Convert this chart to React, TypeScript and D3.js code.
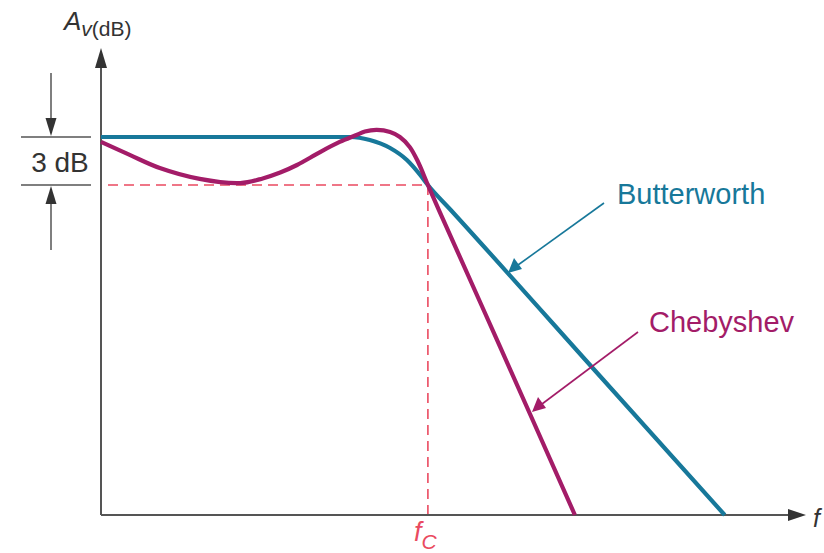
import React from "react";
import * as d3 from "d3";

// Frequency (arbitrary units) and gain (dB relative to passband)
const butterFreq = [0, 20, 35.6, 38.4, 41.3, 43.7, 45.6, 46.7, 49.9, 71.4, 89.1];
const butterGain = [0, 0, 0, -0.19, -0.69, -1.44, -2.375, -3, -4.53, -15, -23.625];

const chebyFreq = [0, 4.1, 8.4, 14.1, 19.9, 23.1, 25.6, 28, 31.3, 34.1, 36.3, 37.7, 39.4, 41.3, 42.7, 44.1, 45.3, 46.7, 48.4, 57, 67.7];
const chebyGain = [-0.31, -1.12, -1.94, -2.62, -2.88, -2.59, -2.22, -1.75, -0.94, -0.31, 0.09, 0.34, 0.44, 0.31, 0, -0.625, -1.56, -3, -4.69, -13.1, -23.625];

const cutoffFreq = 46.7;
const cutoffGain = -3;

const BLUE = "#17789a";
const MAG = "#a31c68";
const RED = "#ea4a60";
const AX = "#555";
const FONT = "'Liberation Sans', Arial, Helvetica, sans-serif";

export default function App() {
  const x = d3.scaleLinear().domain([0, 100]).range([101, 801]);
  const y = d3.scaleLinear().domain([-23.625, 0]).range([515, 137]);

  const butterLine = d3
    .line<[number, number]>()
    .x((d) => x(d[0]))
    .y((d) => y(d[1]))
    .curve(d3.curveMonotoneX);
  const chebyLine = d3
    .line<[number, number]>()
    .x((d) => x(d[0]))
    .y((d) => y(d[1]))
    .curve(d3.curveCatmullRom.alpha(0.5));

  const butter = butterFreq.map((f, i) => [f, butterGain[i]] as [number, number]);
  const cheby = chebyFreq.map((f, i) => [f, chebyGain[i]] as [number, number]);

  const x0 = x(0);
  const yBottom = y(-23.625);
  const yTop = y(0);
  const y3 = y(cutoffGain);
  const xc = x(cutoffFreq);

  return (
    <svg width={824} height={553} style={{ position: "absolute", left: 0, top: 0 }}>
      <rect width={824} height={553} fill="#fff" />
      {/* dashed cutoff lines */}
      <line x1={108} y1={y3} x2={xc} y2={y3} stroke={RED} strokeWidth={1.6} strokeDasharray="10 6" />
      <line x1={xc} y1={y3} x2={xc} y2={yBottom} stroke={RED} strokeWidth={1.6} strokeDasharray="10 6" />

      {/* axes */}
      <line x1={x0} y1={yBottom} x2={x0} y2={62} stroke={AX} strokeWidth={2} />
      <path d={`M${x0},48 L${x0 - 6},68 L${x0 + 6},68 Z`} fill="#333" />
      <line x1={x0} y1={yBottom} x2={792} y2={yBottom} stroke={AX} strokeWidth={2} />
      <path d={`M806,${yBottom} L788,${yBottom - 6} L788,${yBottom + 6} Z`} fill="#333" />

      {/* curves */}
      <path d={butterLine(butter) || ""} fill="none" stroke={BLUE} strokeWidth={4.2} />
      <path d={chebyLine(cheby) || ""} fill="none" stroke={MAG} strokeWidth={4.2} />

      {/* 3 dB marker */}
      <line x1={21} y1={yTop} x2={91} y2={yTop} stroke={AX} strokeWidth={1.5} />
      <line x1={21} y1={y3} x2={91} y2={y3} stroke={AX} strokeWidth={1.5} />
      <line x1={51} y1={73} x2={51} y2={122} stroke={AX} strokeWidth={1.5} />
      <path d={`M51,${yTop - 1} L45.5,${yTop - 19} L56.5,${yTop - 19} Z`} fill="#333" />
      <line x1={51} y1={200} x2={51} y2={250} stroke={AX} strokeWidth={1.5} />
      <path d={`M51,${y3 + 1} L45.5,${y3 + 19} L56.5,${y3 + 19} Z`} fill="#333" />
      <text x={60} y={172} fontFamily={FONT} fontSize={28} fill="#333" textAnchor="middle">3 dB</text>

      {/* axis labels */}
      <text x={64} y={30} fontFamily={FONT} fill="#333">
        <tspan fontSize={26} fontStyle="italic">A</tspan>
        <tspan fontSize={21} dy={6} fontStyle="italic">v</tspan>
        <tspan fontSize={21}>(dB)</tspan>
      </text>
      <text x={414} y={541} fontFamily={FONT} fill={RED}>
        <tspan fontSize={27} fontStyle="italic">f</tspan>
        <tspan fontSize={21} dy={8} fontStyle="italic">C</tspan>
      </text>
      <text x={813} y={527} fontFamily={FONT} fontSize={25} fontStyle="italic" fill="#333">f</text>

      {/* annotations */}
      <text x={617} y={204} fontFamily={FONT} fontSize={29} fill={BLUE}>Butterworth</text>
      <line x1={604} y1={203} x2={518} y2={265} stroke={BLUE} strokeWidth={1.6} />
      <path d="M508,273 L514,258 L522,269 Z" fill={BLUE} />
      <text x={649} y={332} fontFamily={FONT} fontSize={29} fill={MAG}>Chebyshev</text>
      <line x1={638} y1={332} x2={542} y2={404} stroke={MAG} strokeWidth={1.6} />
      <path d="M532,412 L538,397 L546,408 Z" fill={MAG} />
    </svg>
  );
}
